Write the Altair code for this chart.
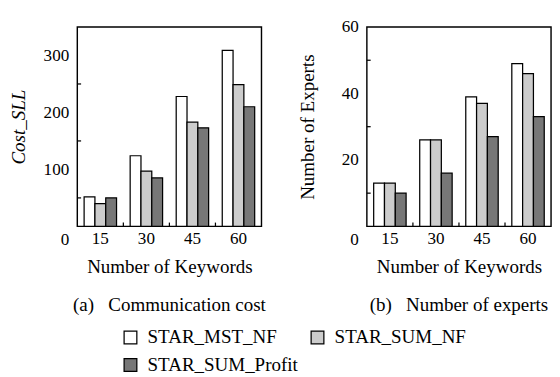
import altair as alt
import pandas as pd

keywords = ["15", "30", "45", "60"]
series = ["STAR_MST_NF", "STAR_SUM_NF", "STAR_SUM_Profit"]
colors = ["#ffffff", "#cccccc", "#777777"]

cost_mst = [52, 124, 228, 309]
cost_sum_nf = [40, 97, 183, 249]
cost_profit = [50, 85, 173, 210]

experts_mst = [13, 26, 39, 49]
experts_sum_nf = [13, 26, 37, 46]
experts_profit = [10, 16, 27, 33]

cost_ticks = [0, 100, 200, 300]
cost_minor = [50, 150, 250]
experts_ticks = [0, 20, 40, 60]
experts_minor = [10, 30, 50]

SERIF = "Liberation Serif"
W, H = 194, 210


def long_df(a, b, c):
    rows = []
    for vals, s in zip([a, b, c], series):
        for k, v in zip(keywords, vals):
            rows.append({"k": k, "s": s, "v": v})
    return pd.DataFrame(rows)


def panel(df, ytitle, ydomain, yvalues, minor, italic, caption, dx, ytp):
    xenc = alt.X(
        "k:N",
        sort=keywords,
        scale=alt.Scale(domain=keywords, paddingInner=0, paddingOuter=0),
        axis=alt.Axis(
            title="Number of Keywords",
            titleFontSize=20,
            labelAngle=0,
            ticks=False,
            domain=False,
            labelPadding=4,
            titlePadding=11,
        ),
    )
    yscale = alt.Scale(domain=ydomain, nice=False, zero=True)
    bars = alt.Chart(df).mark_bar(stroke="black", strokeWidth=1.3).encode(
        x=xenc,
        xOffset=alt.XOffset(
            "s:N", sort=series,
            scale=alt.Scale(domain=series, paddingInner=0, paddingOuter=0.63),
        ),
        y=alt.Y(
            "v:Q",
            scale=yscale,
            axis=alt.Axis(
                values=yvalues,
                title=ytitle,
                titleFontSize=20,
                titleFontStyle="italic" if italic else "normal",
                ticks=False,
                domain=False,
                grid=False,
                labelPadding=9,
                titlePadding=ytp,
                labelOverlap=False,
                labelOffset={"condition": {"test": "datum.value === 0", "value": 14}, "value": 0},
            ),
        ),
        fill=alt.Fill(
            "s:N",
            sort=series,
            scale=alt.Scale(domain=series, range=colors),
            legend=alt.Legend(
                title=None,
                orient="none",
                direction="horizontal",
                legendX=46,
                legendY=317,
                columns=2,
                symbolType="square",
                symbolSize=180,
                symbolStrokeColor="black",
                symbolStrokeWidth=1.3,
                labelFont=SERIF,
                labelFontSize=20,
                labelColor="black",
                labelOffset=8,
                columnPadding=10,
                rowPadding=9,
                labelLimit=300,
            ),
        ),
    )
    xt = alt.Chart(pd.DataFrame({"k": keywords[1:]})).mark_rule(
        color="black", strokeWidth=1.3
    ).encode(
        x=alt.X("k:N", sort=keywords, bandPosition=0,
                scale=alt.Scale(domain=keywords, paddingInner=0, paddingOuter=0)),
        y=alt.value(H),
        y2=alt.value(H - 4),
    )
    yt = alt.Chart(pd.DataFrame({"v": minor})).mark_rule(
        color="black", strokeWidth=1.3
    ).encode(
        y=alt.Y("v:Q", scale=yscale),
        x=alt.value(0),
        x2=alt.value(4),
    )
    return alt.layer(bars, xt, yt).properties(
        width=W,
        height=H,
        title=alt.TitleParams(
            caption,
            orient="bottom",
            frame="group",
            anchor="middle",
            dx=dx,
            offset=20,
            font=SERIF,
            fontSize=20,
            fontWeight="normal",
            color="black",
        ),
    )


left = panel(long_df(cost_mst, cost_sum_nf, cost_profit), "Cost_SLL", [0, 350],
             cost_ticks, cost_minor, True, "(a)\u00a0\u00a0\u00a0Communication cost", 0, 16)
right = panel(long_df(experts_mst, experts_sum_nf, experts_profit), "Number of Experts", [0, 60],
              experts_ticks, experts_minor, False, "(b)\u00a0\u00a0\u00a0Number of experts", 0, 25)

chart = alt.hconcat(left, right, spacing=32).resolve_scale(fill="shared").properties(
    padding={"left": 0, "top": 0, "right": 0, "bottom": 0}
).configure_view(
    stroke="black", strokeWidth=1.5
).configure_axis(
    labelFont=SERIF,
    titleFont=SERIF,
    labelFontSize=18,
    titleFontSize=18,
    labelColor="black",
    titleColor="black",
    titleFontWeight="normal",
)

chart.save("out.html", embed_options={"renderer": "svg", "actions": False})
